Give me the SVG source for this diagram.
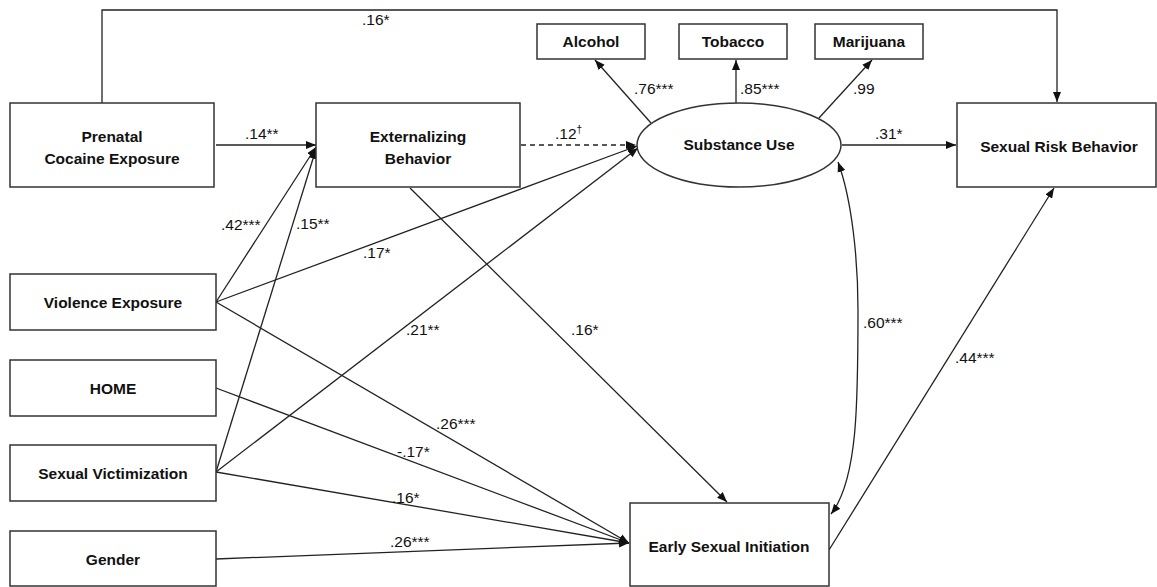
<svg xmlns="http://www.w3.org/2000/svg" width="1157" height="587" viewBox="0 0 1157 587">
<style>
.box{fill:#fff;stroke:#333;stroke-width:1.5}
.lbl{font-family:"Liberation Sans",Arial,sans-serif;font-weight:bold;font-size:15.5px;fill:#111;text-anchor:middle}
.c{font-family:"Liberation Sans",Arial,sans-serif;font-size:15.5px;fill:#111}
.e{fill:none;stroke:#222;stroke-width:1.3}
</style>
<defs>
<marker id="ah" viewBox="0 0 10 10" refX="10" refY="5" markerWidth="10" markerHeight="10" markerUnits="userSpaceOnUse" orient="auto">
<path d="M0,1 L10,5 L0,9 Z" fill="#111"/>
</marker>
<marker id="as" viewBox="0 0 10 10" refX="0" refY="5" markerWidth="10" markerHeight="10" markerUnits="userSpaceOnUse" orient="auto">
<path d="M10,1 L0,5 L10,9 Z" fill="#111"/>
</marker>
</defs>
<g id="edges">
<path class="e" d="M102,103 V10 H1057 V102" marker-end="url(#ah)"/>
<line class="e" x1="216" y1="145" x2="316" y2="145" marker-end="url(#ah)"/>
<line class="e" x1="521" y1="145" x2="636" y2="145" stroke-dasharray="5,4" marker-end="url(#ah)"/>
<line class="e" x1="651" y1="123" x2="595" y2="60" marker-end="url(#ah)"/>
<line class="e" x1="736" y1="103" x2="736" y2="60" marker-end="url(#ah)"/>
<line class="e" x1="819" y1="118" x2="872" y2="60" marker-end="url(#ah)"/>
<line class="e" x1="842" y1="145" x2="956" y2="145" marker-end="url(#ah)"/>
<line class="e" x1="216" y1="302" x2="316" y2="147" marker-end="url(#ah)"/>
<line class="e" x1="216" y1="472" x2="316" y2="149" marker-end="url(#ah)"/>
<line class="e" x1="216" y1="302" x2="637" y2="146" marker-end="url(#ah)"/>
<line class="e" x1="216" y1="472" x2="638" y2="148" marker-end="url(#ah)"/>
<line class="e" x1="410" y1="188" x2="727" y2="502" marker-end="url(#ah)"/>
<line class="e" x1="216" y1="302" x2="629" y2="543" marker-end="url(#ah)"/>
<line class="e" x1="216" y1="388" x2="629" y2="543" marker-end="url(#ah)"/>
<line class="e" x1="216" y1="472" x2="629" y2="543" marker-end="url(#ah)"/>
<line class="e" x1="216" y1="559" x2="629" y2="543" marker-end="url(#ah)"/>
<line class="e" x1="829" y1="550" x2="1054" y2="188" marker-end="url(#ah)"/>
<path class="e" d="M838,162 C852,200 858,260 858,310 C858,400 858,480 831,514" marker-start="url(#as)" marker-end="url(#ah)"/>
<text class="c" x="362" y="25">.16*</text>
<text class="c" x="245" y="139">.14**</text>
<text class="c" x="555" y="139">.12<tspan font-size="10" dy="-6">†</tspan></text>
<text class="c" x="634" y="94">.76***</text>
<text class="c" x="740" y="94">.85***</text>
<text class="c" x="853" y="94">.99</text>
<text class="c" x="875" y="139">.31*</text>
<text class="c" x="221" y="230">.42***</text>
<text class="c" x="296" y="229">.15**</text>
<text class="c" x="363" y="258">.17*</text>
<text class="c" x="406" y="335">.21**</text>
<text class="c" x="571" y="335">.16*</text>
<text class="c" x="863" y="328">.60***</text>
<text class="c" x="955" y="363">.44***</text>
<text class="c" x="436" y="429">.26***</text>
<text class="c" x="397" y="457">-.17*</text>
<text class="c" x="392" y="503">.16*</text>
<text class="c" x="390" y="547">.26***</text>
</g>
<g id="prenatal"><rect class="box" x="10" y="103" width="204" height="84"/><text class="lbl" x="112" y="142">Prenatal</text><text class="lbl" x="112" y="164">Cocaine Exposure</text></g>
<g id="externalizing"><rect class="box" x="316" y="103" width="204" height="84"/><text class="lbl" x="418" y="142">Externalizing</text><text class="lbl" x="418" y="164">Behavior</text></g>
<g id="alcohol"><rect class="box" x="537" y="24" width="108" height="35"/><text class="lbl" x="591" y="47">Alcohol</text></g>
<g id="tobacco"><rect class="box" x="679" y="24" width="108" height="35"/><text class="lbl" x="733" y="47">Tobacco</text></g>
<g id="marijuana"><rect class="box" x="815" y="24" width="108" height="35"/><text class="lbl" x="869" y="47">Marijuana</text></g>
<g id="substance"><ellipse class="box" cx="739" cy="145" rx="102" ry="42"/><text class="lbl" x="739" y="150">Substance Use</text></g>
<g id="sexualrisk"><rect class="box" x="957" y="103" width="199" height="84"/><text class="lbl" x="1059" y="152">Sexual Risk Behavior</text></g>
<g id="violence"><rect class="box" x="10" y="274" width="206" height="56"/><text class="lbl" x="113" y="308">Violence Exposure</text></g>
<g id="home"><rect class="box" x="10" y="360" width="206" height="56"/><text class="lbl" x="113" y="394">HOME</text></g>
<g id="victimization"><rect class="box" x="10" y="445" width="206" height="56"/><text class="lbl" x="113" y="479">Sexual Victimization</text></g>
<g id="gender"><rect class="box" x="10" y="531" width="206" height="55"/><text class="lbl" x="113" y="565">Gender</text></g>
<g id="early"><rect class="box" x="630" y="503" width="199" height="83"/><text class="lbl" x="729" y="552">Early Sexual Initiation</text></g>
</svg>
